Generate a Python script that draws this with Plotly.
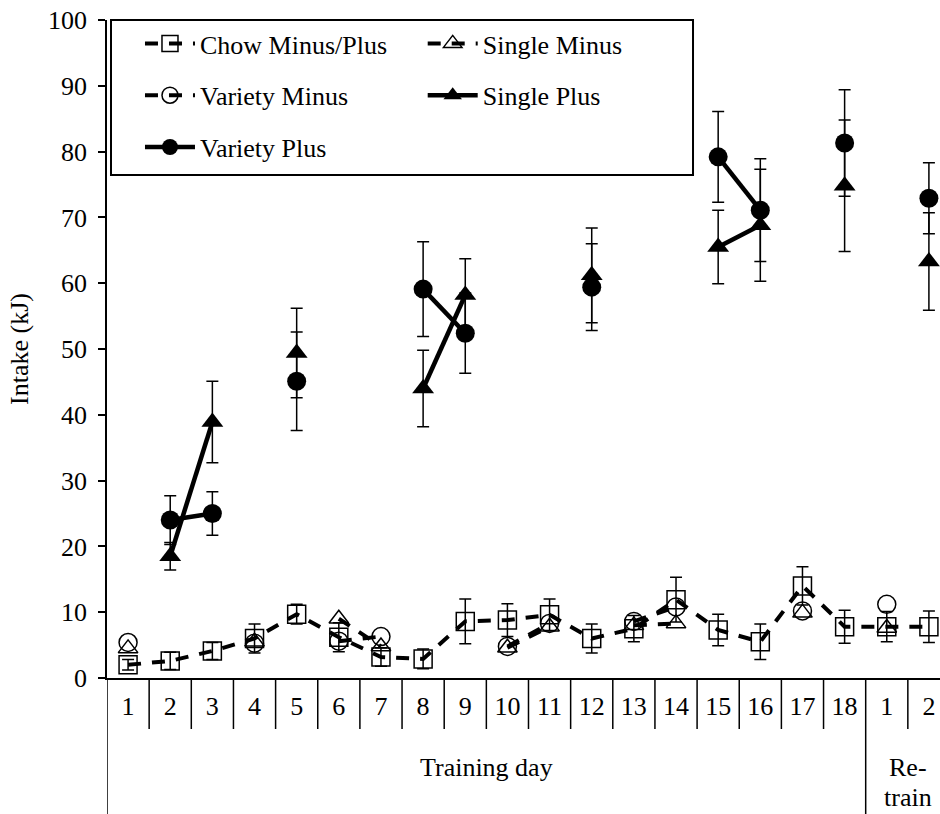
import plotly.graph_objects as go

# Category axis: 18 training days followed by 2 re-training days
day_labels = [str(d) for d in range(1, 19)] + ["1", "2"]
day_pos = list(range(1, 21))

# Chow Minus/Plus group (every day), mean and SEM in kJ
chow = [2.0, 2.6, 4.1, 6.0, 9.7, 6.2, 3.2, 2.9, 8.6, 8.8,
        9.6, 6.0, 7.5, 11.9, 7.3, 5.5, 14.0, 7.8, 7.8, 7.8]
chow_err = [0.8, 1.3, 1.3, 2.2, 1.5, 2.2, 1.4, 1.5, 3.4, 2.5,
            2.4, 2.2, 2.0, 3.4, 2.4, 2.7, 2.9, 2.5, 2.3, 2.4]

# Minus days of the Single / Variety groups (chow only)
single_minus = [4.5, None, None, 5.5, None, 9.0, 4.8, None, None, 4.6,
                7.8, None, 8.0, 8.3, None, None, 9.9, None, 7.6, None]
variety_minus = [5.4, None, None, 5.3, None, 5.6, 6.3, None, None, 4.8,
                 8.3, None, 8.6, 10.8, None, None, 10.2, None, 11.2, None]

# Plus days of the Single / Variety groups (palatable food available)
single_plus = [None, 18.5, 38.9, None, 49.4, None, None, 44.0, 58.2, None,
               None, 61.2, None, None, 65.5, 68.8, None, 74.8, None, 63.3]
single_plus_err = [0, 2.1, 6.2, 0, 6.8, 0, 0, 5.8, 5.5, 0,
                   0, 7.2, 0, 0, 5.6, 8.5, 0, 10.0, 0, 7.4]
variety_plus = [None, 24.0, 25.0, None, 45.1, None, None, 59.1, 52.4, None,
                None, 59.4, None, None, 79.2, 71.1, None, 81.3, None, 72.9]
variety_plus_err = [0, 3.7, 3.3, 0, 7.5, 0, 0, 7.2, 6.1, 0,
                    0, 6.6, 0, 0, 6.9, 7.8, 0, 8.1, 0, 5.4]

FONT = "Liberation Serif, Times New Roman, serif"
DASH = "13px,11px"
ERR = dict(type="data", color="black", thickness=1.5, width=6)

fig = go.Figure()

fig.add_trace(go.Scatter(
    x=day_pos, y=chow, name="Chow Minus/Plus", mode="lines+markers",
    line=dict(color="black", width=4, dash=DASH),
    marker=dict(symbol="square-open", size=18, color="black", line=dict(width=1.5)),
    error_y=dict(array=chow_err, **ERR),
    legend="legend", legendgroup="chow"))

fig.add_trace(go.Scatter(
    x=day_pos, y=single_minus, name="Single Minus", mode="lines+markers",
    line=dict(color="black", width=4, dash=DASH),
    marker=dict(symbol="triangle-up-open", size=17, color="black", line=dict(width=1.5)),
    legend="legend2", legendgroup="sminus"))

fig.add_trace(go.Scatter(
    x=day_pos, y=variety_minus, name="Variety Minus", mode="lines+markers",
    line=dict(color="black", width=4, dash=DASH),
    marker=dict(symbol="circle-open", size=18, color="black", line=dict(width=1.5)),
    legend="legend", legendgroup="vminus"))

fig.add_trace(go.Scatter(
    x=day_pos, y=single_plus, name="Single Plus", mode="lines+markers",
    line=dict(color="black", width=4.5),
    marker=dict(symbol="triangle-up", size=19, color="black"),
    error_y=dict(array=single_plus_err, **ERR),
    legend="legend2", legendgroup="splus"))

fig.add_trace(go.Scatter(
    x=day_pos, y=variety_plus, name="Variety Plus", mode="lines+markers",
    line=dict(color="black", width=4.5),
    marker=dict(symbol="circle", size=19, color="black"),
    error_y=dict(array=variety_plus_err, **ERR),
    legend="legend", legendgroup="vplus"))

# Category separators below the axis, with longer lines bounding the groups
shapes = []
for k in range(1, 20):
    long_line = k == 18
    shapes.append(dict(type="line", xref="x", yref="paper",
                       x0=k + 0.5, x1=k + 0.5, y0=0, y1=-0.2067 if long_line else -0.0775,
                       line=dict(color="black", width=1.5)))
shapes.append(dict(type="line", xref="x", yref="paper", x0=0.5, x1=0.5,
                   y0=0, y1=-0.2067, line=dict(color="black", width=1.5)))
# Legend frame
shapes.append(dict(type="rect", xref="paper", yref="paper",
                   x0=0.0048, x1=0.7035, y0=0.7644, y1=1.0,
                   line=dict(color="black", width=2), fillcolor="white", layer="below"))

annotations = [
    dict(text="Training day", xref="x", yref="paper", x=9.5, y=-0.1353,
         showarrow=False, yanchor="middle", font=dict(size=26)),
    dict(text="Re-", xref="x", yref="paper", x=19.5, y=-0.1353,
         showarrow=False, yanchor="middle", font=dict(size=26)),
    dict(text="train", xref="x", yref="paper", x=19.5, y=-0.181,
         showarrow=False, yanchor="middle", font=dict(size=26)),
]

legend_style = dict(orientation="v", bgcolor="rgba(0,0,0,0)", borderwidth=0,
                    font=dict(family=FONT, size=26, color="black"),
                    itemwidth=50, tracegroupgap=15, traceorder="grouped",
                    xanchor="left", yanchor="top", y=1.0)

fig.update_layout(
    width=940, height=814,
    margin=dict(l=107, r=0, t=20, b=136),
    plot_bgcolor="white", paper_bgcolor="white",
    font=dict(family=FONT, size=26, color="black"),
    showlegend=True,
    legend=dict(x=0.0396, **legend_style),
    legend2=dict(x=0.379, **legend_style),
    xaxis=dict(range=[0.5, 20.263], tickmode="array", tickvals=day_pos, ticktext=day_labels,
               ticks="", showgrid=False, zeroline=False, showline=True,
               linecolor="black", linewidth=1.5, ticklabelstandoff=4,
               tickfont=dict(size=26)),
    yaxis=dict(range=[0, 100], tickmode="linear", tick0=0, dtick=10,
               ticks="outside", ticklen=7, tickwidth=1.5, tickcolor="black",
               showline=True, linecolor="black", linewidth=1.5,
               showgrid=False, zeroline=False, ticklabelstandoff=6,
               tickfont=dict(size=26),
               title=dict(text="Intake (kJ)", font=dict(size=26), standoff=12)),
    shapes=shapes,
    annotations=annotations,
)

fig.write_html("out.html")
